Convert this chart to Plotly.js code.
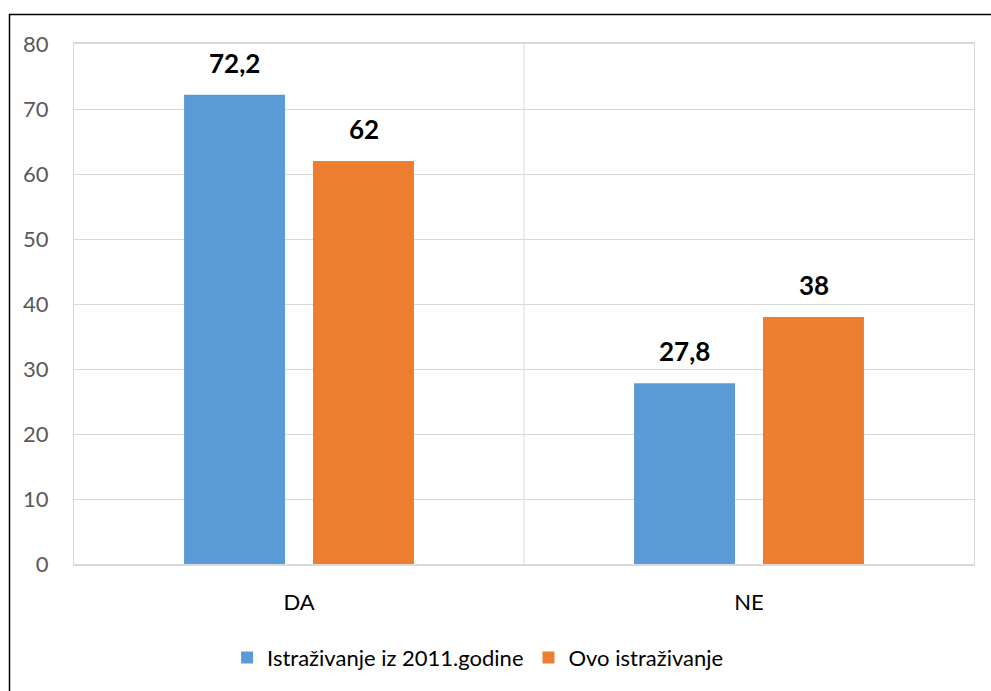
<!DOCTYPE html>
<html>
<head>
<meta charset="utf-8">
<script src="https://cdn.plot.ly/plotly-3.0.1.min.js"></script>
<style>html,body{margin:0;padding:0;background:#fff;}#chart{width:991px;height:691px;}</style>
</head>
<body>
<div id="chart"></div>
<script>
const categories = ["DA", "NE"];
const seriesNames = ["Istraživanje iz 2011.godine", "Ovo istraživanje"];
const values2011 = [72.2, 27.8];
const valuesNow = [62, 38];
const yTicks = [0, 10, 20, 30, 40, 50, 60, 70, 80];

const fmt = v => String(v).replace('.', ',');
const FONT = "Lato, 'Open Sans', sans-serif";

const traces = [
  {type:'bar', name:seriesNames[0], x:categories, y:values2011, marker:{color:'#5B9BD5'}, hoverinfo:'none'},
  {type:'bar', name:seriesNames[1], x:categories, y:valuesNow, marker:{color:'#ED7D31'}, hoverinfo:'none'}
];

const annotations = [];
[[values2011, -64.5], [valuesNow, 64.5]].forEach(([vals, dx]) => {
  vals.forEach((v, i) => {
    annotations.push({x:categories[i], y:v, xref:'x', yref:'y', text:'<b>'+fmt(v)+'</b>',
      showarrow:false, xanchor:'center', yanchor:'bottom', xshift:dx, yshift:14,
      font:{family:FONT, size:26, color:'#000'}});
  });
});

const layout = {
  width:991, height:691,
  margin:{l:74, r:17, t:44, b:125},
  paper_bgcolor:'#fff', plot_bgcolor:'#fff',
  font:{family:FONT, color:'#595959', size:22},
  barmode:'group', bargap:0.427, bargroupgap:0.217,
  showlegend:true,
  legend:{orientation:'h', x:0.449, xanchor:'center', y:-0.18, yanchor:'middle',
          font:{family:FONT, size:22, color:'#000'}, itemclick:false, traceorder:'normal'},
  xaxis:{type:'category', range:[-0.5,1.5], showgrid:false, zeroline:false,
         showline:true, mirror:true, linecolor:'#d9d9d9', linewidth:2,
         ticks:'', ticklabelstandoff:18, tickfont:{family:FONT, size:22, color:'#000'}},
  yaxis:{range:[0,80], tickvals:yTicks, ticktext:yTicks.map(String), showgrid:true, gridcolor:'#d9d9d9', gridwidth:1,
         zeroline:false, showline:true, mirror:true, linecolor:'#d9d9d9', linewidth:1,
         ticks:'', ticklabelstandoff:20, tickfont:{family:FONT, size:22, color:'#595959'}},
  annotations: annotations,
  shapes:[
    {type:'line', xref:'x', yref:'paper', x0:0.5, x1:0.5, y0:0, y1:1, line:{color:'#d9d9d9', width:1}, layer:'below'},
    {type:'rect', xref:'paper', yref:'paper', x0:(9.5-74)/900, x1:1.2, y0:-0.6, y1:1+(44-14.5)/522,
     line:{color:'#000', width:1.5}, fillcolor:'rgba(0,0,0,0)'}
  ]
};

Plotly.newPlot('chart', traces, layout, {displayModeBar:false, staticPlot:true});
</script>
</body>
</html>
